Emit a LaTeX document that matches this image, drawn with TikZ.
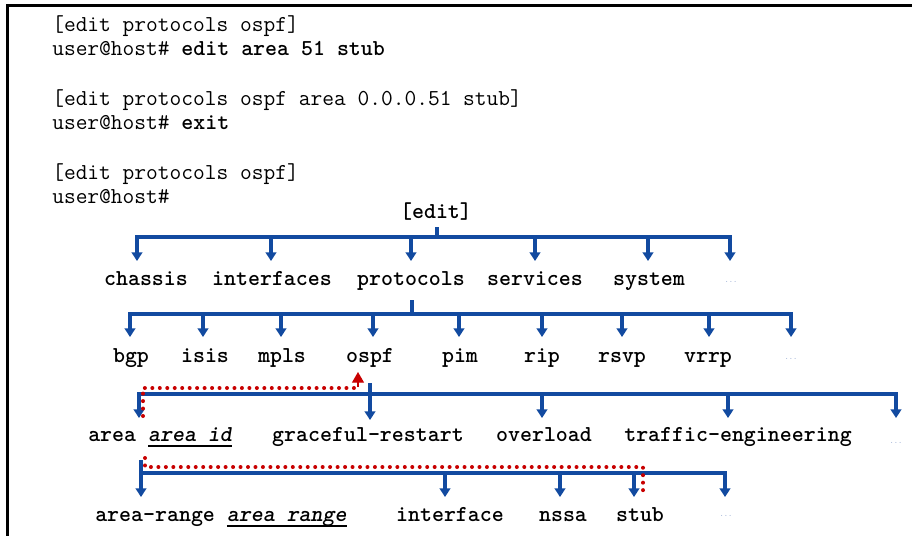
\documentclass[tikz,border=0pt]{standalone}
\usetikzlibrary{arrows.meta}
\definecolor{tblue}{RGB}{18,74,160}
\definecolor{tred}{RGB}{200,0,0}
\definecolor{tdots}{RGB}{160,178,214}
\newcommand\myul[1]{\setbox0\hbox{#1}\rlap{\rule[-4.2pt]{\wd0}{1.3pt}}\box0}
\begin{document}
\begin{tikzpicture}[x=0.75pt,y=-0.75pt,
  cmd/.style={anchor=base west, inner sep=0pt, font=\fontsize{17.1pt}{20pt}\selectfont\ttfamily},
  lbl/.style={anchor=base, inner sep=0pt, font=\fontsize{17.1pt}{20pt}\selectfont\ttfamily\bfseries},
  lblw/.style={lbl, anchor=base west},
  more/.style={inner sep=0pt, text=tdots, font=\fontsize{6pt}{6pt}\selectfont\ttfamily},
  bus/.style={draw=tblue, line width=2.4pt, line cap=rect},
  arr/.style={draw=tblue, line width=2.4pt, -{Triangle[width=8pt,length=6.5pt]}},
  trail/.style={draw=tred, line width=3pt, line cap=round, dash pattern=on 0pt off 5.6pt},
  redtip/.style={draw=tred, fill=tred, line width=1pt, -{Triangle[width=9pt,length=8pt]}}
]
\useasboundingbox (0,0) rectangle (912,536);
\fill[white] (0,0) rectangle (912,536);
% frame
\draw[black, line width=2.25pt] (912,5) -- (7.5,5) -- (7.5,536);

% command lines
\node[cmd] (c1) at (52,31) {{}[edit protocols ospf]};
\node[cmd] (c2) at (52,55.5) {user@host\# \textbf{edit area 51 stub}};
\node[cmd] (c3) at (52,105) {{}[edit protocols ospf area 0.0.0.51 stub]};
\node[cmd] (c4) at (52,129.5) {user@host\# \textbf{exit}};
\node[cmd] (c5) at (52,179) {{}[edit protocols ospf]};
\node[cmd] (c6) at (52,203.5) {user@host\#};

% tree labels
\node[lbl] (edit) at (436,218) {{}[edit]};
\node[lbl] (chassis) at (146,285.5) {chassis};
\node[lbl] (interfaces) at (272,285.5) {interfaces};
\node[lbl] (protocols) at (411,285.5) {protocols};
\node[lbl] (services) at (535,285.5) {services};
\node[lbl] (system) at (649,285.5) {system};
\node[more] (m1) at (731,282) {...};

\node[lbl] (bgp) at (131,362) {bgp};
\node[lbl] (isis) at (205,362) {isis};
\node[lbl] (mpls) at (282,362) {mpls};
\node[lbl] (ospf) at (370,362) {ospf};
\node[lbl] (pim) at (460,362) {pim};
\node[lbl] (rip) at (542,362) {rip};
\node[lbl] (rsvp) at (622,362) {rsvp};
\node[lbl] (vrrp) at (708,362) {vrrp};
\node[more] (m2) at (791,359) {...};

\node[lblw] (area) at (88,441.5) {area \myul{\itshape area id}};
\node[lbl] (graceful) at (368,441.5) {graceful-restart};
\node[lbl] (overload) at (544,441.5) {overload};
\node[lbl] (te) at (738,441.5) {traffic-engineering};
\node[more] (m3) at (896,443) {...};

\node[lblw] (arange) at (95,521.5) {area-range \myul{\itshape area range}};
\node[lbl] (interface) at (450,521.5) {interface};
\node[lbl] (nssa) at (563,521.5) {nssa};
\node[lbl] (stub) at (640,521.5) {stub};
\node[more] (m4) at (726,516) {...};

% level 1
\draw[bus] (437,229) -- (437,237);
\draw[bus] (137,237) -- (730,237);
\foreach \x in {137,271,411,535,648,730}
  \draw[arr] (\x,236) -- (\x,261);

% level 2
\draw[bus] (412,302) -- (412,314);
\draw[bus] (130,314) -- (791,314);
\foreach \x in {130,203,281,373,459,542,622,709,791}
  \draw[arr] (\x,313) -- (\x,337);

% level 3
\draw[bus] (139,394) -- (896,394);
\draw[arr] (370,383) -- (370,420);
\foreach \x in {139,542,728,896}
  \draw[arr] (\x,393) -- (\x,418);

% level 4
\draw[bus] (141,473) -- (725,473);
\draw[arr] (141,460) -- (141,497);
\foreach \x in {445,560,634,725}
  \draw[arr] (\x,472) -- (\x,497);

% red trails
\draw[trail] (143,416) -- (143,388) -- (355,388);
\draw[redtip] (358,387) -- (358,372);
\draw[trail] (145,458) -- (145,467) -- (643,467) -- (643,497);
\end{tikzpicture}
\end{document}
